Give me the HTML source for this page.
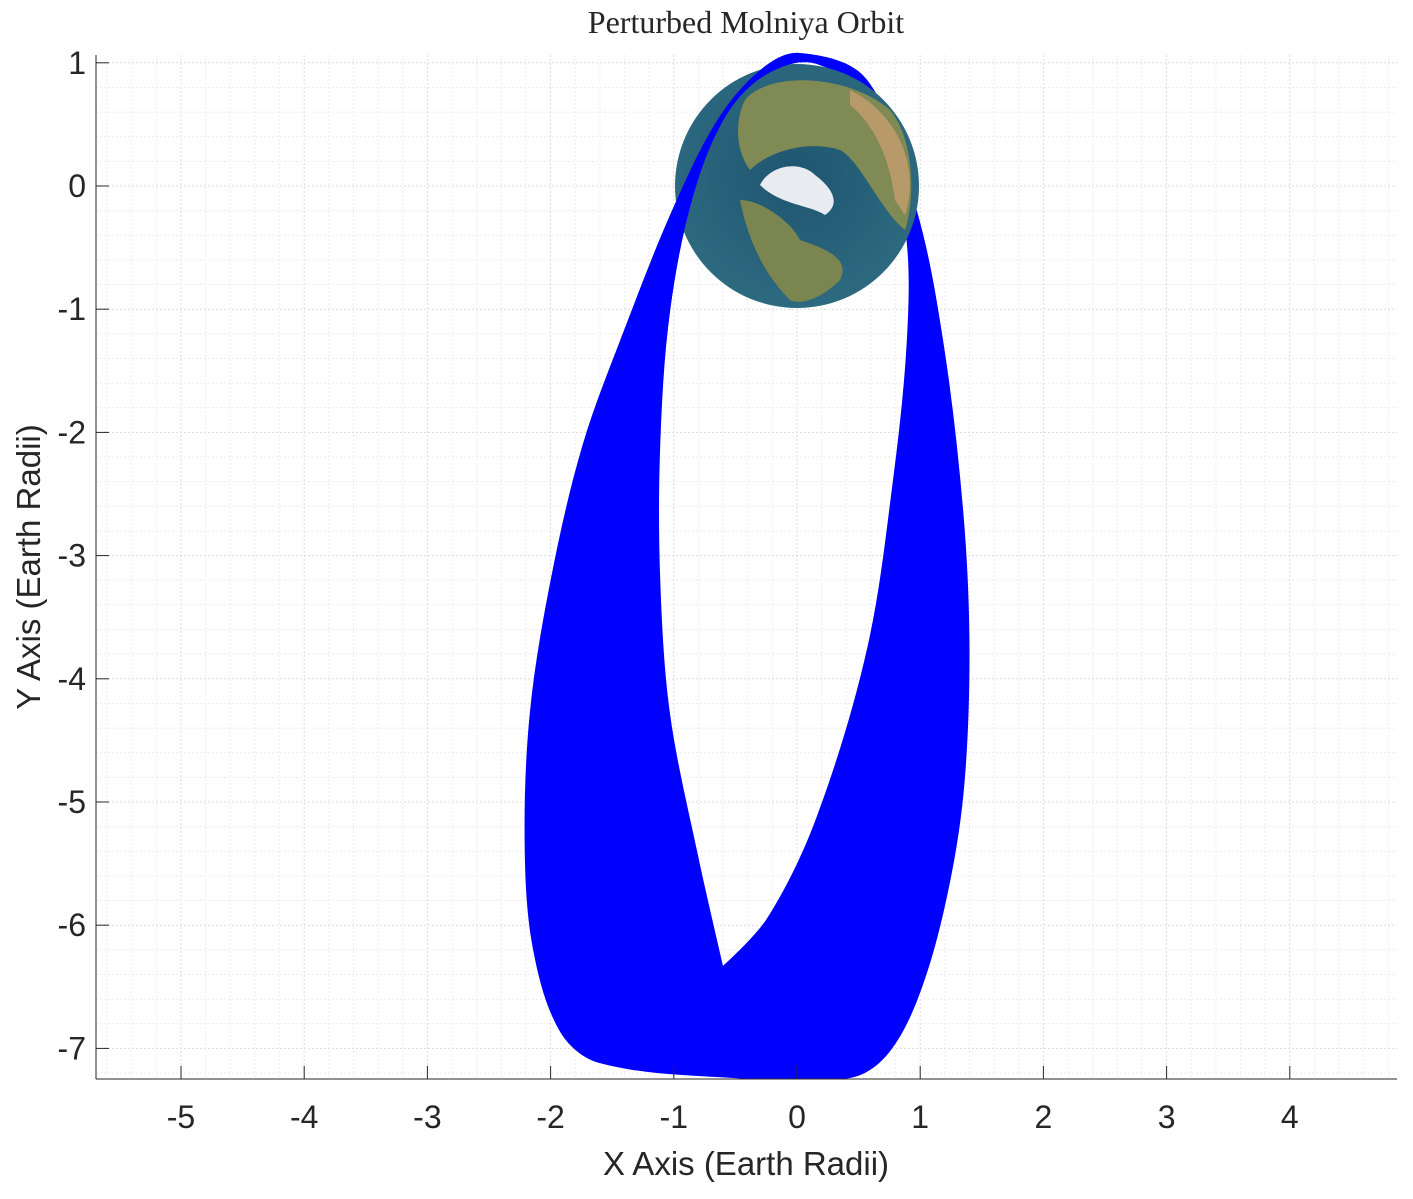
<!DOCTYPE html>
<html><head><meta charset="utf-8"><style>
body{margin:0;background:#fff;}
svg text{font-family:"Liberation Sans",sans-serif;fill:#262626;}
</style></head><body>
<svg width="1413" height="1194" viewBox="0 0 1413 1194">
<defs>
<radialGradient id="oc" cx="0.5" cy="0.45" r="0.55"><stop offset="0" stop-color="#1f5570"/><stop offset="1" stop-color="#2d6a80"/></radialGradient>
<clipPath id="plotclip"><rect x="96" y="50" width="1301" height="1029"/></clipPath>
<clipPath id="leftclip"><rect x="600" y="40" width="212" height="300"/></clipPath>
<clipPath id="earthclip"><circle id="ec" cx="797" cy="186" r="122"/></clipPath>
</defs>
<g id="grid"></g>
<g id="band"></g>
<g id="earth"></g>
<g id="bandfront"></g>
<g id="axes"></g>
<text x="746" y="33" text-anchor="middle" font-size="32" style="font-family:'Liberation Serif',serif">Perturbed Molniya Orbit</text>
<text x="746" y="1175" text-anchor="middle" font-size="33">X Axis (Earth Radii)</text>
<text transform="translate(40,567) rotate(-90)" text-anchor="middle" font-size="33">Y Axis (Earth Radii)</text>
</svg>
<script>
const xTicks=[-5,-4,-3,-2,-1,0,1,2,3,4];
const yTicks=[1,0,-1,-2,-3,-4,-5,-6,-7];
const outerX=[0.02,0.57,0.97,1.19,1.35,1.40,1.36,1.24,1.02,0.75,0.43,-0.52,-1.60,-1.92,-2.14,-2.21,-2.17,-2.00,-1.74,-1.38,-1.01,-0.65,-0.30];
const outerY=[1.08,0.86,-0.19,-1.28,-2.65,-3.74,-4.84,-5.66,-6.49,-7.03,-7.24,-7.24,-7.12,-6.87,-6.21,-5.39,-4.29,-3.20,-2.10,-1.11,-0.19,0.53,0.94];
const innerX=[0.16,0.70,0.89,0.89,0.78,0.57,0.16,-0.24,-0.60,-0.80,-1.03,-1.11,-1.11,-1.03,-0.84,-0.57,-0.24];
const innerY=[0.99,0.58,-0.45,-1.28,-2.38,-3.75,-5.12,-5.94,-6.33,-5.45,-4.29,-3.20,-2.10,-1.01,-0.07,0.58,0.91];
const X0=797,Y0=186,S=123.2;
const sx=v=>X0+v*S, sy=v=>Y0-v*S;
const NS='http://www.w3.org/2000/svg';
function mk(t,a,p){const e=document.createElementNS(NS,t);for(const k in a)e.setAttribute(k,a[k]);p.appendChild(e);return e;}
const grid=document.getElementById('grid');
for(let i=-30;i<=25;i++){const v=i*0.2,x=sx(v);if(x<96||x>1397)continue;
 const l=mk('line',{x1:x,x2:x,y1:55,y2:1079,stroke:Math.abs(i%5)==0?'#dcdcdc':'#ececec','stroke-dasharray':'2,2'},grid);
 
 }
for(let i=-40;i<=6;i++){const v=i*0.2,y=sy(v);if(y<55||y>1079)continue;
 const l=mk('line',{x1:96,x2:1397,y1:y,y2:y,stroke:Math.abs(i%5)==0?'#dcdcdc':'#ececec','stroke-dasharray':'2,2'},grid);
 
 }
function smooth(xs,ys,corners){const p=xs.map((x,i)=>[sx(x),sy(ys[i])]);const n=p.length;let d='M'+p[0][0]+','+p[0][1];
 for(let i=0;i<n;i++){const i2=(i+1)%n;const p0=p[(i-1+n)%n],p1=p[i],p2=p[i2],p3=p[(i+2)%n];
  const d1=Math.hypot(p2[0]-p1[0],p2[1]-p1[1]);
  const a=Math.hypot(p2[0]-p0[0],p2[1]-p0[1])||1, c=Math.hypot(p3[0]-p1[0],p3[1]-p1[1])||1;
  const k1=corners.includes(i)?0:d1/a/3, k2=corners.includes(i2)?0:d1/c/3;
  d+=`C${p1[0]+(p2[0]-p0[0])*k1},${p1[1]+(p2[1]-p0[1])*k1} ${p2[0]-(p3[0]-p1[0])*k2},${p2[1]-(p3[1]-p1[1])*k2} ${p2[0]},${p2[1]}`;}
 return d+'Z';}
const dBand=smooth(outerX,outerY,[])+smooth(innerX,innerY,[8]);
const b=mk('path',{d:dBand,fill:'#0000ff','fill-rule':'evenodd','clip-path':'url(#plotclip)'},document.getElementById('band'));


const eg=document.getElementById('earth');
mk('circle',{cx:797,cy:186,r:122,fill:'url(#oc)'},eg);
const lg=mk('g',{'clip-path':'url(#earthclip)'},eg);
mk('path',{d:'M745,100 C770,70 850,75 890,110 C915,140 915,200 905,230 C880,210 860,160 840,150 C810,140 770,150 750,170 C735,150 735,120 745,100Z',fill:'#808a55'},lg);
mk('path',{d:'M850,90 C900,115 920,170 905,215 L895,200 C890,160 875,125 850,105Z',fill:'#b89a6a'},lg);
mk('path',{d:'M740,200 C760,200 790,220 800,240 C830,250 850,260 840,280 C820,300 800,305 790,300 C770,280 750,250 740,200Z',fill:'#7a8550'},lg);
mk('path',{d:'M760,185 C770,165 800,160 815,175 C835,190 840,205 825,215 C810,205 780,205 760,185Z',fill:'#e8ecf0'},lg);
const f=mk('path',{d:dBand,fill:'#0000ff','fill-rule':'evenodd','clip-path':'url(#leftclip)'},document.getElementById('bandfront'));


const ax=document.getElementById('axes');
mk('line',{x1:96,x2:1397,y1:1079,y2:1079,stroke:'#262626'},ax);
mk('line',{x1:96,x2:96,y1:55,y2:1079,stroke:'#262626'},ax);
xTicks.forEach(v=>{const x=sx(v);mk('line',{x1:x,x2:x,y1:1079,y2:1066,stroke:'#262626'},ax);
 const t=mk('text',{x:x,y:1128,'text-anchor':'middle','font-size':'32'},ax);t.textContent=v;
 
 });
yTicks.forEach(v=>{const y=sy(v);mk('line',{x1:96,x2:109,y1:y,y2:y,stroke:'#262626'},ax);
 const t=mk('text',{x:86,y:y+11,'text-anchor':'end','font-size':'32'},ax);t.textContent=v;
 
 });
</script>
</body></html>
